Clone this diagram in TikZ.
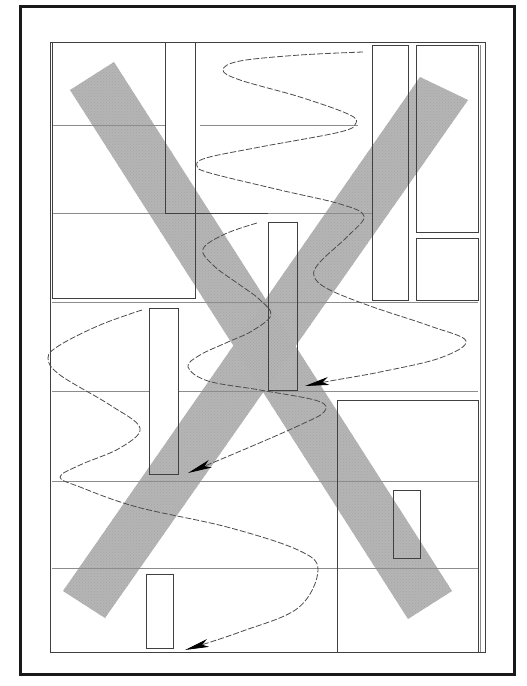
\documentclass[tikz,border=0pt]{standalone}
\usetikzlibrary{arrows.meta,patterns}
\begin{document}
\begin{tikzpicture}[x=1pt,y=-1pt,
  band/.style={fill=black!29},
  banddots/.style={pattern=crosshatch dots, pattern color=black!35},
  gridline/.style={draw=black!45, line width=0.8pt},
  boxline/.style={draw=black!75, line width=0.9pt},
  pageedge/.style={draw=black!90, line width=3pt},
  flow/.style={draw=black!70, line width=0.8pt, dash pattern=on 6pt off 2pt},
  flowtip/.style={-{Stealth[length=24pt,width=8pt,inset=6pt,black]}}]
\useasboundingbox (0,0) rectangle (527,686);
\fill[white] (0,0) rectangle (527,686);
% X bands
\path[band] (70,90) -- (114,62) -- (452,591) -- (408,619) -- cycle;
\path[band] (420,77) -- (468,100) -- (105,618) -- (63,591) -- cycle;
\path[banddots] (70,90) -- (114,62) -- (452,591) -- (408,619) -- cycle;
\path[banddots] (420,77) -- (468,100) -- (105,618) -- (63,591) -- cycle;
% page edge and inner frame
\draw[pageedge] (20,6) rectangle (514,674);
\draw[boxline] (50,42) rectangle (485,652);
\draw[gridline] (480,45) -- (480,652);
% grid lines
\draw[gridline] (52,125) -- (165,125);
\draw[gridline] (200,125) -- (358,125);
\draw[gridline] (52,213) -- (372,213);
\draw[gridline] (52,302) -- (478,302);
\draw[gridline] (52,391) -- (149,391);
\draw[gridline] (178,391) -- (478,391);
\draw[gridline] (52,481) -- (478,481);
\draw[gridline] (52,568) -- (478,568);
% boxes
\draw[boxline] (52,42) rectangle (195,298);
\draw[boxline] (165,42) rectangle (195,213);
\draw[boxline] (195,213) -- (268,213);
\draw[boxline] (268,222) rectangle (297,390);
\draw[boxline] (149,308) rectangle (178,474);
\draw[boxline] (146,574) rectangle (173,648);
\draw[boxline] (372,45) rectangle (408,300);
\draw[boxline] (416,45) rectangle (478,232);
\draw[boxline] (416,238) rectangle (478,300);
\draw[boxline] (337,400) rectangle (478,652);
\draw[boxline] (393,490) rectangle (420,558);
% flow path 1 (top)
\draw[flow,flowtip] plot[smooth,tension=0.6] coordinates {
  (363,52) (300,55) (240,61) (223,70) (240,80) (300,97) (348,114) (356,123)
  (340,132) (260,147) (206,158) (197,166) (210,173) (280,190) (340,204)
  (364,216) (348,236) (320,262) (314,276) (328,289) (370,306) (430,326)
  (466,341) (440,358) (380,372) (330,381) (305,386)};
% flow path 2 (middle)
\draw[flow,flowtip] plot[smooth,tension=0.6] coordinates {
  (257,223) (225,234) (203,249) (214,266) (240,285) (259,299) (271,315)
  (252,331) (228,342) (200,355) (188,367) (208,381) (260,390) (318,401)
  (324,412) (300,425) (250,447) (188,473)};
% flow path 3 (left)
\draw[flow,flowtip] plot[smooth,tension=0.6] coordinates {
  (142,310) (100,325) (60,345) (48,358) (60,375) (110,405) (140,428)
  (120,448) (80,465) (60,477) (80,487) (137,507) (227,527) (298,550)
  (318,570) (298,608) (240,632) (185,650)};
\end{tikzpicture}
\end{document}
